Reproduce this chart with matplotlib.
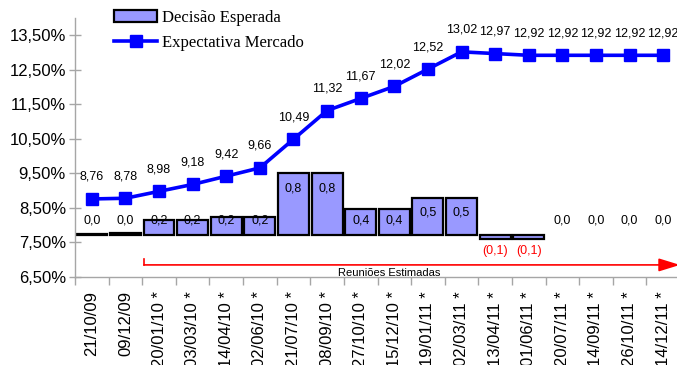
import math
import matplotlib
matplotlib.use("Agg")
import matplotlib.pyplot as plt
from matplotlib.patches import Patch
from matplotlib.lines import Line2D
from matplotlib.ticker import FuncFormatter, FixedLocator

categories = ["21/10/09", "09/12/09", "20/01/10 *", "03/03/10 *", "14/04/10 *", "02/06/10 *",
              "21/07/10 *", "08/09/10 *", "27/10/10 *", "15/12/10 *", "19/01/11 *", "02/03/11 *",
              "13/04/11 *", "01/06/11 *", "20/07/11 *", "14/09/11 *", "26/10/11 *", "14/12/11 *"]
expectativa = [8.76, 8.78, 8.98, 9.18, 9.42, 9.66, 10.49, 11.32, 11.67, 12.02, 12.52, 13.02,
               12.97, 12.92, 12.92, 12.92, 12.92, 12.92]
decisao = [0.01, 0.02, 0.20, 0.20, 0.24, 0.24, 0.83, 0.83, 0.35, 0.35, 0.50, 0.50,
           -0.05, -0.05, 0.0, 0.0, 0.0, 0.0]
y_ticks = [6.5, 7.5, 8.5, 9.5, 10.5, 11.5, 12.5, 13.5]


def fmt1(v):
    r = math.floor(abs(v) * 10 + 0.5 + 1e-9) / 10
    return f"{r:.1f}".replace(".", ",")


fig = plt.figure(figsize=(6.77, 3.65), dpi=100)
ax = fig.add_axes([75/677, 88/365, 605/677, 259/365])
ax2 = ax.twinx()
ax.set_zorder(ax2.get_zorder() + 1)
ax.patch.set_visible(False)

x = list(range(len(categories)))
grey = "#A6A6A6"

# bars on secondary axis
for xi, v in zip(x, decisao):
    if v == 0:
        continue
    ax2.bar(xi, v, width=0.92, color="#9999FF", edgecolor="black", linewidth=1.6, zorder=2)
for xi, v in zip(x, decisao):
    lab = fmt1(v)
    if v < 0:
        ax2.text(xi, v - 0.17, f"({lab})", ha="center", va="center", fontsize=9,
                 color="red", family="Liberation Sans")
    else:
        ax2.text(xi, max(v - 0.2, 0.2), lab, ha="center", va="center", fontsize=9,
                 color="black", family="Liberation Sans", zorder=3)
ax2.set_ylim(-0.568, 2.93)
ax2.axis("off")

# line on primary axis
ax.plot(x, expectativa, color="#0000FF", linewidth=2.6, marker="s", markersize=8.5,
        markeredgecolor="#0000FF", zorder=5, clip_on=False)
for xi, v in zip(x, expectativa):
    ax.annotate(f"{v:.2f}".replace(".", ","), (xi, v), xytext=(0, 22), textcoords="offset pixels",
                ha="center", va="center", fontsize=9, family="Liberation Sans")

ax.set_xlim(-0.5, len(categories) - 0.5)
ax.set_ylim(6.5, 14.0)
ax.yaxis.set_major_locator(FixedLocator(y_ticks))
ax.yaxis.set_major_formatter(FuncFormatter(lambda v, p: f"{v:.2f}%".replace(".", ",")))
ax.set_xticks(x)
ax.set_xticklabels(categories, rotation=90, fontsize=12, family="Liberation Sans", va="top")
ax.xaxis.set_minor_locator(FixedLocator([i - 0.5 for i in range(len(categories) + 1)]))
ax.tick_params(axis="x", which="major", length=0, pad=10)
ax.tick_params(axis="x", which="minor", length=6, color=grey, width=1)
ax.tick_params(axis="y", direction="inout", length=9, color=grey, width=1, labelsize=12, pad=2)
for lab in ax.get_yticklabels():
    lab.set_family("Liberation Sans")
for s in ["top", "right"]:
    ax.spines[s].set_visible(False)
for s in ["left", "bottom"]:
    ax.spines[s].set_color(grey)
    ax.spines[s].set_linewidth(1)

# red arrow for estimated meetings
ax.plot([1.55, 1.55], [6.85, 7.03], color="red", linewidth=1.2, zorder=4)
ax.annotate("", xy=(17.5, 6.85), xytext=(1.55, 6.85),
            arrowprops=dict(arrowstyle="-|>,head_length=1.3,head_width=0.4", color="red",
                            linewidth=1.2, shrinkA=0, shrinkB=0), annotation_clip=False)
ax.text(8.85, 6.63, "Reuniões Estimadas", ha="center", va="center", fontsize=8,
        family="Liberation Sans")

handles = [Patch(facecolor="#9999FF", edgecolor="black", linewidth=1.6),
           Line2D([0], [0], color="#0000FF", linewidth=2.6, marker="s", markersize=8.5)]
fig.legend(handles, ["Decisão Esperada", "Expectativa Mercado"], loc="upper left",
           bbox_to_anchor=(114/677, 1 - 10/365), frameon=False, borderpad=0, borderaxespad=0,
           handlelength=2.6, handletextpad=0.3, labelspacing=0.55,
           prop={"family": "Liberation Serif", "size": 12})

fig.savefig("out.png", dpi=100)
